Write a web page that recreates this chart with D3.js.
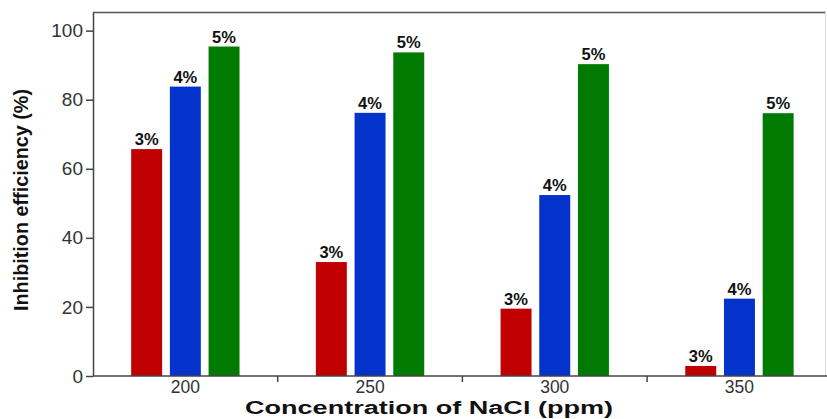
<!DOCTYPE html>
<html>
<head>
<meta charset="utf-8">
<script src="https://cdn.jsdelivr.net/npm/d3@7"></script>
<style>
  body { margin: 0; background: #fff; }
  svg { display: block; font-family: "Liberation Sans", Arial, sans-serif; }
</style>
</head>
<body>
<div id="chart"></div>
<script>

// ======================= //
// DATA
// ======================= //

var concentrations = ["200", "250", "300", "350"]
var inhibitors = ["3%", "4%", "5%"]
var eff3 = [65.7, 33.0, 19.5, 2.9]
var eff4 = [83.8, 76.2, 52.4, 22.4]
var eff5 = [95.4, 93.7, 90.3, 76.1]
var yTicks = [0, 20, 40, 60, 80, 100]
var barColors = ["#c00000", "#0433cc", "#007a00"]

var allSeries = [eff3, eff4, eff5]
var data = []
concentrations.forEach(function(c, i){
  inhibitors.forEach(function(s, j){
    data.push({conc: c, series: s, value: allSeries[j][i]})
  })
})

// ======================= //
// SVG AREA
// ======================= //

var W = 827, H = 419
var margin = {top: 12, left: 93, bottom: 43, right: 1}
var plotRight = W - margin.right
var plotBottom = H - margin.bottom

var svg = d3.select("#chart")
  .append("svg")
    .attr("width", W)
    .attr("height", H)

// ======================= //
// SCALES
// ======================= //

var x = d3.scaleBand()
  .domain(concentrations)
  .range([margin.left, margin.left + 4 * 184.7])

var xSub = d3.scaleBand()
  .domain(inhibitors)
  .range([0, 38.7 * 3])
  .paddingInner(0.2)
  .paddingOuter(0.1)

var y = d3.scaleLinear()
  .domain([0, 105.4])
  .range([plotBottom, margin.top])

// ======================= //
// FRAME
// ======================= //

svg.append("line")
  .attr("x1", margin.left).attr("x2", plotRight)
  .attr("y1", margin.top + 0.5).attr("y2", margin.top + 0.5)
  .attr("stroke", "#555").attr("stroke-width", 1.5)

svg.append("line")
  .attr("x1", plotRight - 0.5).attr("x2", plotRight - 0.5)
  .attr("y1", margin.top).attr("y2", plotBottom)
  .attr("stroke", "#ddd").attr("stroke-width", 1)

// ======================= //
// BARS AND LABELS
// ======================= //

var groupOffset = function(c){ return x(c) + x.bandwidth() / 2 - 38.7 * 1.5 }

svg.append("g")
  .selectAll("rect")
  .data(data)
  .enter()
  .append("rect")
    .attr("x", function(d){ return groupOffset(d.conc) + xSub(d.series) })
    .attr("width", xSub.bandwidth())
    .attr("y", function(d){ return y(d.value) })
    .attr("height", function(d){ return y(0) - y(d.value) })
    .attr("fill", function(d){ return barColors[inhibitors.indexOf(d.series)] })

svg.append("g")
  .selectAll("text")
  .data(data)
  .enter()
  .append("text")
    .attr("x", function(d){ return groupOffset(d.conc) + xSub(d.series) + xSub.bandwidth() / 2 })
    .attr("y", function(d){ return y(d.value) - 4 })
    .attr("text-anchor", "middle")
    .style("font-size", "16.5px")
    .style("font-weight", "bold")
    .style("fill", "#111")
    .text(function(d){ return d.series })

// ======================= //
// AXES
// ======================= //

var yAxis = svg.append("g")
  .attr("transform", "translate(" + margin.left + ",0)")
  .call(d3.axisLeft(y).tickValues(yTicks).tickSize(7).tickSizeOuter(0).tickPadding(3))
yAxis.select(".domain").attr("stroke", "#444").attr("stroke-width", 1.5)
yAxis.selectAll(".tick line").attr("stroke", "#444").attr("stroke-width", 1.5)
yAxis.selectAll("text").style("font-size", "19px").style("fill", "#333")

var xAxis = svg.append("g")
  .attr("transform", "translate(0," + plotBottom + ")")
  .call(d3.axisBottom(x).tickSize(0).tickPadding(5))
xAxis.select(".domain").remove()
xAxis.selectAll("text").style("font-size", "17.5px").style("fill", "#333")

svg.append("line")
  .attr("x1", margin.left).attr("x2", W)
  .attr("y1", plotBottom).attr("y2", plotBottom)
  .attr("stroke", "#444").attr("stroke-width", 1.5)

// minor ticks between the groups
svg.append("g")
  .selectAll("line")
  .data(concentrations)
  .enter()
  .append("line")
    .attr("x1", function(d){ return x(d) + x.bandwidth() })
    .attr("x2", function(d){ return x(d) + x.bandwidth() })
    .attr("y1", plotBottom)
    .attr("y2", plotBottom + 6)
    .attr("stroke", "#444")
    .attr("stroke-width", 1.5)

// ======================= //
// TITLES
// ======================= //

svg.append("text")
  .attr("transform", "translate(28,200) rotate(-90)")
  .attr("text-anchor", "middle")
  .attr("textLength", 222)
  .attr("lengthAdjust", "spacingAndGlyphs")
  .style("font-size", "21px")
  .style("font-weight", "bold")
  .style("fill", "#111")
  .text("Inhibition efficiency (%)")

svg.append("text")
  .attr("x", 429)
  .attr("y", 414)
  .attr("text-anchor", "middle")
  .attr("textLength", 368)
  .attr("lengthAdjust", "spacingAndGlyphs")
  .style("font-size", "18px")
  .style("font-weight", "bold")
  .style("fill", "#111")
  .text("Concentration of NaCl (ppm)")

</script>
</body>
</html>
